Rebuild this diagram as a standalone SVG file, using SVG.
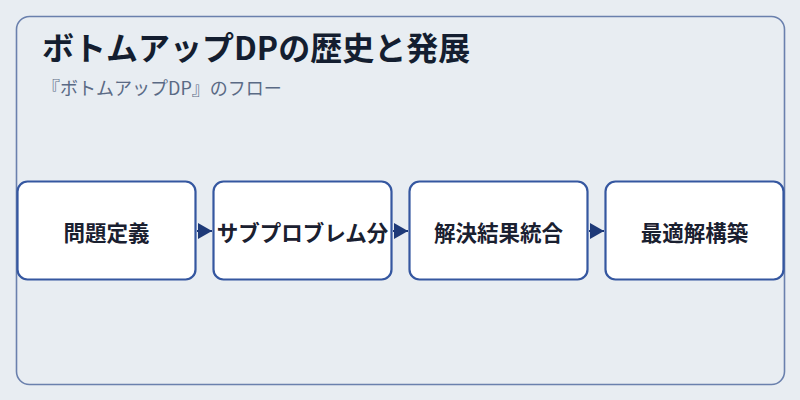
<svg xmlns="http://www.w3.org/2000/svg" width="800" height="400" viewBox="0 0 800 400">
<style>
.node rect{fill:#ffffff;stroke:#3557a0;stroke-width:2.2}
.node text{font-family:"Noto Sans CJK JP","Noto Sans",sans-serif;font-size:21.5px;font-weight:bold;fill:#1a2030;text-anchor:middle;dominant-baseline:central}
.conn{stroke:#1e3a78;stroke-width:2;fill:none}
</style>
<defs>
<marker id="arr" viewBox="0 0 14 16" refX="14" refY="8" markerWidth="14" markerHeight="16" markerUnits="userSpaceOnUse" orient="auto">
<path d="M0,0 L14,8 L0,16 Z" fill="#1e3a78"/>
</marker>
</defs>
<rect width="800" height="400" fill="#e8edf2"/>
<rect x="16.5" y="16.5" width="768" height="368" rx="13" fill="#e8edf2" stroke="#6a80ad" stroke-width="1.6"/>
<text x="42" y="60" font-family="'Noto Sans CJK JP','Noto Sans',sans-serif" font-size="32" font-weight="bold" fill="#141e30">ボトムアップDPの歴史と発展</text>
<text x="42" y="95" font-family="'Noto Sans CJK JP','Noto Sans',sans-serif" font-size="18" fill="#5a6a85">『ボトムアップDP』のフロー</text>
<g id="connectors">
<line class="conn" x1="197" y1="231" x2="212" y2="231" marker-end="url(#arr)"/>
<line class="conn" x1="393" y1="231" x2="408" y2="231" marker-end="url(#arr)"/>
<line class="conn" x1="589" y1="231" x2="604" y2="231" marker-end="url(#arr)"/>
</g>
<g id="node1" class="node"><rect x="17.5" y="181.5" width="178" height="98" rx="10"/><text x="106.5" y="231">問題定義</text></g>
<g id="node2" class="node"><rect x="213.5" y="181.5" width="178" height="98" rx="10"/><text x="302.5" y="231">サブプロブレム分</text></g>
<g id="node3" class="node"><rect x="409.5" y="181.5" width="178" height="98" rx="10"/><text x="498.5" y="231">解決結果統合</text></g>
<g id="node4" class="node"><rect x="605.5" y="181.5" width="178" height="98" rx="10"/><text x="694.5" y="231">最適解構築</text></g>
</svg>
